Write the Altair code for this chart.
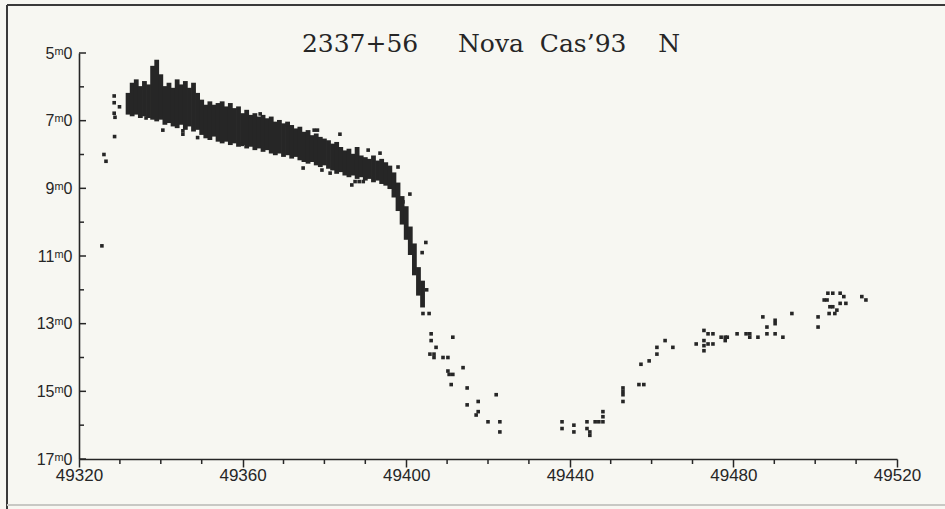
import altair as alt
import pandas as pd

# Nova Cas 1993 (2337+56) visual light curve, JD-2400000 vs magnitude

# Dense part of the curve: per-day brightest / faintest estimate
band_day = list(range(49332, 49405))
band_bright = [
    6.25, 5.95, 5.85, 6.05, 5.90, 6.00, 5.45, 5.27, 5.70, 6.05,
    5.95, 6.10, 5.85, 6.00, 5.90, 6.10, 5.95, 6.25, 6.45, 6.60,
    6.50, 6.60, 6.55, 6.50, 6.65, 6.55, 6.70, 6.65, 6.85, 6.75,
    6.90, 6.85, 6.95, 6.90, 7.00, 6.95, 7.10, 7.05, 7.15, 7.10,
    7.20, 7.30, 7.25, 7.40, 7.35, 7.50, 7.45, 7.55, 7.60, 7.65,
    7.75, 7.70, 7.85, 7.95, 7.90, 8.05, 7.85, 8.10, 8.15, 8.20,
    8.10, 8.25, 8.20, 8.30, 8.40, 8.60, 8.90, 9.30, 9.60, 10.20,
    10.70, 11.40, 11.80,
]
band_faint = [
    6.75, 6.80, 6.75, 6.85, 6.80, 6.85, 6.90, 6.95, 6.90, 7.05,
    7.00, 7.10, 7.15, 7.05, 7.20, 7.10, 7.25, 7.20, 7.35, 7.45,
    7.50, 7.40, 7.55, 7.60, 7.55, 7.65, 7.60, 7.70, 7.65, 7.75,
    7.70, 7.80, 7.75, 7.85, 7.80, 7.90, 7.95, 7.90, 8.00, 7.95,
    8.05, 8.00, 8.10, 8.15, 8.20, 8.15, 8.25, 8.30, 8.25, 8.35,
    8.40, 8.50, 8.45, 8.55, 8.60, 8.55, 8.65, 8.60, 8.70, 8.65,
    8.75, 8.70, 8.80, 8.85, 8.95, 9.20, 9.60, 10.00, 10.45, 10.90,
    11.50, 12.10, 12.45,
]

# Individual estimates
obs_day = [
    49325.6, 49326.1, 49326.6, 49328.6, 49328.6, 49329.9, 49328.6, 49328.8, 49328.7,
    49336.4, 49340.5, 49345.4, 49345.4, 49349.0, 49359.9, 49364.3, 49370.9, 49374.8,
    49377.5, 49378.3, 49379.4, 49381.4, 49383.8, 49386.7, 49387.5, 49388.5, 49389.5,
    49390.7, 49393.6, 49398.0, 49399.2, 49400.9, 49403.9, 49404.8, 49405.0, 49404.1,
    49405.6, 49406.1, 49406.1, 49411.4, 49407.3, 49405.8, 49406.8, 49406.8, 49409.0,
    49410.2, 49413.9, 49410.2, 49410.5, 49411.4, 49411.0, 49414.9, 49422.0, 49417.6,
    49414.9, 49417.6, 49417.1, 49420.0, 49422.9, 49422.9, 49438.1, 49438.1, 49441.0,
    49441.0, 49444.2, 49444.2, 49444.9, 49444.9, 49446.2, 49447.1, 49448.1, 49448.1,
    49448.1, 49453.0, 49453.0, 49453.0, 49453.0, 49456.9, 49458.1, 49457.4, 49459.4,
    49461.3, 49461.3, 49463.3, 49465.2, 49470.9, 49472.8, 49472.8, 49472.8, 49472.8,
    49473.8, 49475.0, 49473.8, 49475.0, 49477.0, 49478.0, 49478.5, 49478.0, 49480.9,
    49483.1, 49484.0, 49484.0, 49486.0, 49487.2, 49488.2, 49488.2, 49490.2, 49490.2,
    49490.2, 49492.1, 49494.3, 49500.7, 49500.7, 49502.2, 49502.9, 49503.1, 49504.3,
    49503.6, 49504.3, 49503.4, 49504.8, 49505.3, 49506.1, 49507.0, 49506.1, 49507.5,
    49511.4, 49512.4,
]
obs_mag = [
    10.70, 8.00, 8.20, 6.27, 6.47, 6.59, 6.78, 6.90, 7.47,
    6.92, 7.28, 7.30, 7.40, 7.50, 7.70, 6.80, 7.13, 8.40,
    7.28, 7.28, 8.46, 8.55, 7.40, 8.90, 8.80, 8.80, 8.80,
    7.87, 7.96, 8.37, 9.40, 9.17, 10.90, 10.60, 12.00, 12.70,
    12.70, 13.30, 13.50, 13.40, 13.70, 13.90, 13.90, 14.00, 14.00,
    14.00, 14.30, 14.40, 14.50, 14.50, 14.80, 14.90, 15.10, 15.30,
    15.40, 15.60, 15.70, 15.90, 15.90, 16.20, 15.90, 16.10, 16.00,
    16.20, 15.90, 16.10, 16.20, 16.30, 15.90, 15.90, 15.60, 15.75,
    15.90, 14.90, 15.00, 15.10, 15.30, 14.80, 14.80, 14.20, 14.10,
    13.70, 13.90, 13.50, 13.70, 13.60, 13.20, 13.50, 13.65, 13.80,
    13.30, 13.30, 13.60, 13.60, 13.40, 13.40, 13.40, 13.50, 13.30,
    13.30, 13.30, 13.40, 13.40, 12.80, 13.10, 13.30, 12.90, 13.00,
    13.30, 13.40, 12.70, 12.80, 13.10, 12.30, 12.30, 12.10, 12.10,
    12.50, 12.50, 12.70, 12.70, 12.60, 12.10, 12.20, 12.40, 12.40,
    12.20, 12.30,
]

x_major = [49320, 49360, 49400, 49440, 49480, 49520]
x_minor = [v for v in range(49330, 49520, 10) if v not in x_major]
y_major = [5, 7, 9, 11, 13, 15, 17]
y_minor = [6, 8, 10, 12, 14, 16]

SP = "\u00a0"
title_text = "2337+56" + SP * 5 + "Nova" + SP * 2 + "Cas\u201993" + SP * 4 + "N"

INK = "#262626"
W, H = 818, 406

xs = alt.Scale(domain=[49320, 49520], nice=False, zero=False)
ys = alt.Scale(domain=[5, 17], reverse=True, nice=False, zero=False)

band = pd.DataFrame({"day": band_day, "bright": band_bright, "faint": band_faint})
obs = pd.DataFrame({"day": obs_day, "mag": obs_mag})

base_x = alt.X("day:Q", scale=xs, axis=alt.Axis(
    values=x_major, format="d", tickSize=8, tickWidth=1.5, tickColor=INK,
    domainColor=INK, domainWidth=1.6, grid=False, labelFont="Liberation Sans",
    labelFontSize=17, labelColor=INK, labelPadding=0, title=None, labelFlush=False))

band_layer = alt.Chart(band).mark_rule(color=INK, strokeWidth=4.8, strokeCap="square").encode(
    x=base_x,
    y=alt.Y("bright:Q", scale=ys, axis=alt.Axis(
        values=y_major, tickSize=0, domainColor=INK, domainWidth=1.6, grid=False,
        labelFont="Liberation Sans", labelFontSize=16, labelColor=INK, labelPadding=7,
        labelExpr="datum.value + '\u1d50' + '0'", title=None)),
    y2="faint:Q",
)

obs_layer = alt.Chart(obs).mark_square(size=13, color=INK, opacity=1).encode(
    x=alt.X("day:Q", scale=xs),
    y=alt.Y("mag:Q", scale=ys),
)

ymaj = alt.Chart(pd.DataFrame({"v": y_major})).mark_rule(color=INK, strokeWidth=1.5).encode(
    y=alt.Y("v:Q", scale=ys), x=alt.value(0), x2=alt.value(7))
ymin = alt.Chart(pd.DataFrame({"v": y_minor})).mark_rule(color=INK, strokeWidth=1.5).encode(
    y=alt.Y("v:Q", scale=ys), x=alt.value(0), x2=alt.value(5))
xmin = alt.Chart(pd.DataFrame({"v": x_minor})).mark_rule(color=INK, strokeWidth=1.5).encode(
    x=alt.X("v:Q", scale=xs), y=alt.value(H), y2=alt.value(H + 5))

one = pd.DataFrame({"k": [0]})
frame_left = alt.Chart(one).mark_rule(color="#3a3a3a", strokeWidth=2).encode(
    x=alt.value(-72), y=alt.value(-48), y2=alt.value(H + 50))
frame_top = alt.Chart(one).mark_rule(color="#3a3a3a", strokeWidth=2).encode(
    x=alt.value(-72), x2=alt.value(W + 50), y=alt.value(-48))
frame_bottom = alt.Chart(one).mark_rule(color="#c8c8c4", strokeWidth=2).encode(
    x=alt.value(-72), x2=alt.value(W + 50), y=alt.value(H + 46))

title = alt.Chart(pd.DataFrame({"t": [title_text]})).mark_text(
    font="DejaVu Serif", fontSize=25, color=INK, align="center", baseline="alphabetic"
).encode(text="t:N", x=alt.value(412), y=alt.value(-1))

chart = alt.layer(
    frame_left, frame_top, frame_bottom, band_layer, obs_layer, ymaj, ymin, xmin, title
).properties(
    width=W, height=H,
    autosize=alt.AutoSizeParams(type="none"),
    padding={"left": 79, "top": 53, "right": 48, "bottom": 50},
    background="#f7f7f2",
).configure_view(stroke=None)

chart.save("out.html", embed_options={"renderer": "svg", "actions": False})
